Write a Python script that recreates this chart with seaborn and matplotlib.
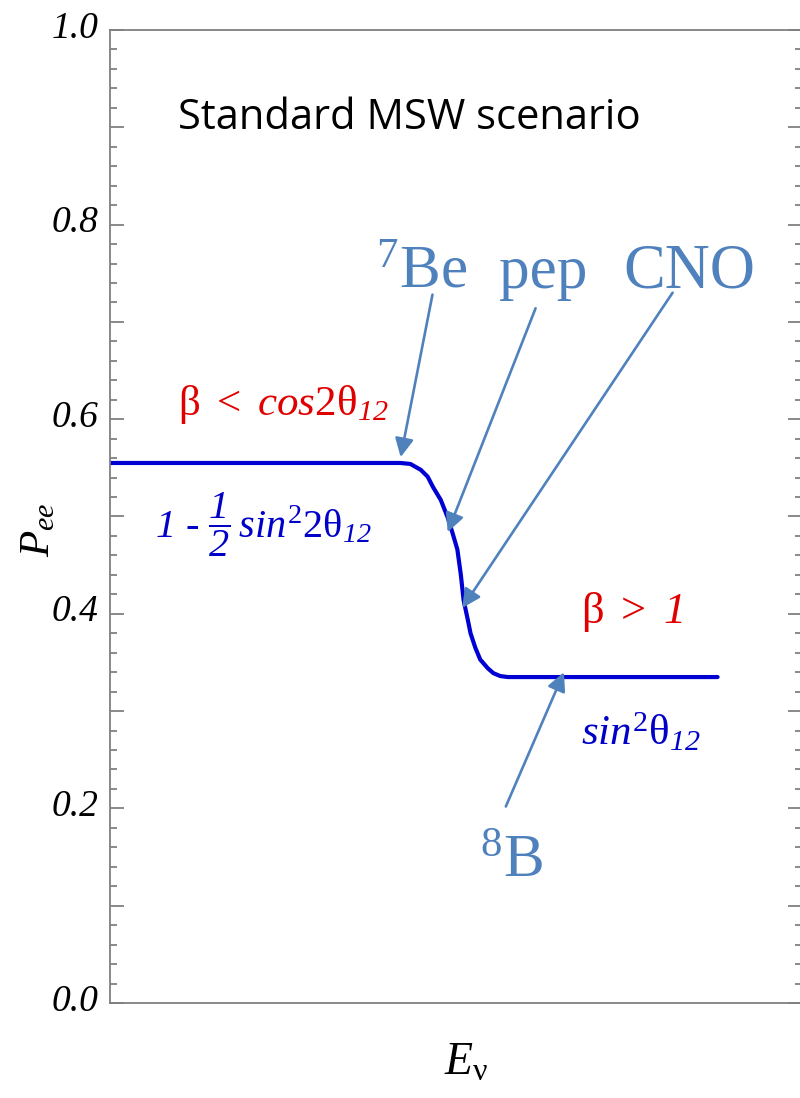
import numpy as np
import pandas as pd
import matplotlib
matplotlib.use("Agg")
import matplotlib.pyplot as plt
import matplotlib.transforms as mtransforms
import seaborn as sns

# energy in arbitrary units (axis runs 0..100), survival probability
energy = [0, 10, 20, 27.5, 35, 39.1, 42.0, 43.4, 44.9, 45.9, 46.7, 47.8, 48.8, 49.5,
          50.2, 50.7, 51.1, 51.7, 52.1, 52.8, 53.5, 54.6, 55.4, 56.4, 57.5, 65, 75, 87.8]
pee = [0.555, 0.555, 0.555, 0.555, 0.555, 0.555, 0.555, 0.554, 0.548, 0.541, 0.530, 0.517,
       0.499, 0.483, 0.466, 0.440, 0.414, 0.394, 0.380, 0.365, 0.353, 0.344, 0.339, 0.336,
       0.335, 0.335, 0.335, 0.335]

ytick_vals = [0.0, 0.1, 0.2, 0.3, 0.4, 0.5, 0.6, 0.7, 0.8, 0.9, 1.0]
ytick_labels = ["0.0", "", "0.2", "", "0.4", "", "0.6", "", "0.8", "", "1.0"]

source_labels = [r"$\mathsf{^{7}Be}$", "pep", "CNO", r"$\mathsf{^{8}B}$"]

df = pd.DataFrame({"E": energy, "Pee": pee})

sns.set_style("white")
plt.rcParams["font.family"] = ["Liberation Serif", "DejaVu Serif"]
# italic is the default inside math (digits too); \mathsf gives upright serif
plt.rcParams["mathtext.fontset"] = "custom"
plt.rcParams["mathtext.rm"] = "Liberation Serif:italic"
plt.rcParams["mathtext.it"] = "Liberation Serif:italic"
plt.rcParams["mathtext.sf"] = "Liberation Serif"
plt.rcParams["mathtext.bf"] = "Liberation Serif:bold"

fig = plt.figure(figsize=(8, 10.98), dpi=100)
ax = fig.add_axes([0.1375, 0.0865, 0.865, 0.8862])

sns.lineplot(data=df, x="E", y="Pee", color="#0000d2", linewidth=3.0, ax=ax)

ax.set_xlim(0, 100)
ax.set_ylim(0, 1)
ax.set_xticks([])
ax.set_yticks(ytick_vals, labels=ytick_labels, fontsize=27, fontstyle="italic", color="black")
ax.yaxis.set_minor_locator(matplotlib.ticker.MultipleLocator(0.02))
ax.tick_params(axis="y", which="both", direction="in", left=True, right=True,
               color="#808080", width=1.3)
ax.tick_params(axis="y", which="major", length=10, pad=8)
ax.tick_params(axis="y", which="minor", length=5)
lift = mtransforms.ScaledTranslation(0, 4 / 72, fig.dpi_scale_trans)
for lab in ax.get_yticklabels():
    lab.set_transform(lab.get_transform() + lift)
for s in ax.spines.values():
    s.set_color("#808080")
    s.set_linewidth(1.3)

ax.set_xlabel(r"$E_{\mathsf{\nu}}$", fontsize=33, color="black")
ax.xaxis.set_label_coords(0.514, -0.040)
ax.set_ylabel(r"$P_{ee}$", fontsize=31, color="black")
ax.yaxis.set_label_coords(-0.075, 0.486)

ax.text(43.3, 0.910, "Standard MSW scenario", fontsize=30, family="Open Sans",
        ha="center", va="center", color="black")

note_blue = "#4f81bd"
ax.text(38.4, 0.735, source_labels[0], fontsize=44, color=note_blue, ha="left", va="baseline")
ax.text(56.2, 0.735, source_labels[1], fontsize=44, color=note_blue, ha="left", va="baseline")
ax.text(74.2, 0.735, source_labels[2], fontsize=45, color=note_blue, ha="left", va="baseline")
ax.text(53.5, 0.129, source_labels[3], fontsize=44, color=note_blue, ha="left", va="baseline")

arrow = dict(arrowstyle="-|>", color=note_blue, lw=1.9, mutation_scale=28,
             shrinkA=0, shrinkB=0)
ax.annotate("", xy=(42.0, 0.561), xytext=(46.6, 0.728), arrowprops=arrow)
ax.annotate("", xy=(48.8, 0.484), xytext=(61.5, 0.714), arrowprops=arrow)
ax.annotate("", xy=(50.9, 0.406), xytext=(81.3, 0.730), arrowprops=arrow)
ax.annotate("", xy=(65.6, 0.340), xytext=(57.2, 0.202), arrowprops=arrow)

red = "#e00000"
ax.text(9.8, 0.604, r"$\mathsf{\beta}\ \mathsf{<}\ cos\mathsf{2\theta}_{12}$",
        fontsize=31, color=red, ha="left", va="baseline")
ax.text(68.0, 0.391, r"$\mathsf{\beta}\ \mathsf{>}\ 1$",
        fontsize=32, color=red, ha="left", va="baseline")

fblue = "#0000c8"
ax.text(6.5, 0.478,
        r"$1$ - $\dfrac{1}{2}\,sin^{\mathsf{2}}\mathsf{2\theta}_{12}$",
        fontsize=29, color=fblue, ha="left", va="baseline")
ax.text(68.0, 0.265, r"$sin^{\mathsf{2}}\mathsf{\theta}_{12}$",
        fontsize=31, color=fblue, ha="left", va="baseline")

fig.savefig("out.png", dpi=100)
